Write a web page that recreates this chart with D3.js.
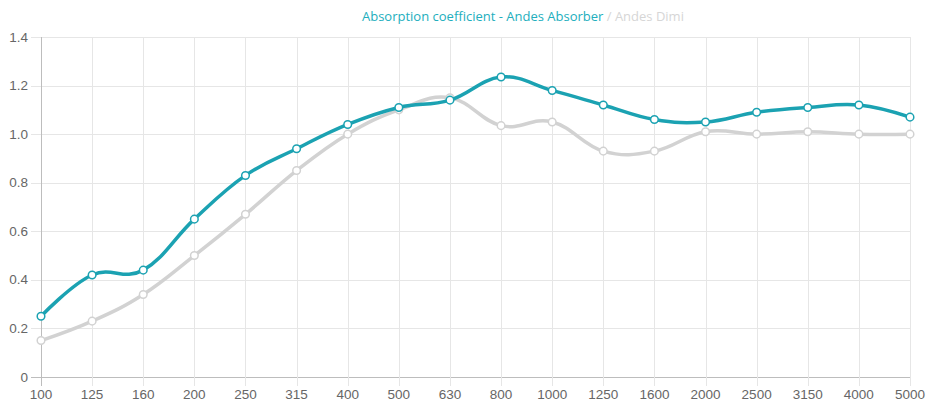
<!DOCTYPE html>
<html>
<head>
<meta charset="utf-8">
<script src="https://cdn.jsdelivr.net/npm/d3@7"></script>
<style>
  body { margin: 0; background: #fff; }
  text { font-family: "Liberation Sans", Arial, sans-serif; }
</style>
</head>
<body>
<div id="chart"></div>
<script>
// third-octave bands
var bands = ["100", "125", "160", "200", "250", "315", "400", "500", "630",
             "800", "1000", "1250", "1600", "2000", "2500", "3150", "4000", "5000"];
var absorber = [0.25, 0.42, 0.44, 0.65, 0.83, 0.94, 1.04, 1.11, 1.14,
                1.235, 1.18, 1.12, 1.06, 1.05, 1.09, 1.11, 1.12, 1.07];
var dimi = [0.15, 0.23, 0.34, 0.50, 0.67, 0.85, 1.00, 1.10, 1.15,
            1.035, 1.05, 0.93, 0.93, 1.01, 1.00, 1.01, 1.00, 1.00];
var yTicks = [0, 0.2, 0.4, 0.6, 0.8, 1.0, 1.2, 1.4];

var width = 928, height = 407;
var margin = { top: 37, right: 18, bottom: 30, left: 41 };

var svg = d3.select("#chart").append("svg")
    .attr("width", width)
    .attr("height", height);

var x = d3.scalePoint()
    .domain(bands)
    .range([margin.left, width - margin.right]);

var y = d3.scaleLinear()
    .domain([0, 1.4])
    .range([height - margin.bottom, margin.top]);

// grid
svg.append("g").selectAll("line")
    .data(yTicks)
    .enter().append("line")
      .attr("x1", margin.left - 10)
      .attr("x2", width - margin.right)
      .attr("y1", function(d) { return Math.round(y(d)) + 0.5; })
      .attr("y2", function(d) { return Math.round(y(d)) + 0.5; })
      .attr("stroke", function(d) { return d === 0 ? "#bdbdbd" : "#e6e6e6"; });

svg.append("g").selectAll("line")
    .data(bands)
    .enter().append("line")
      .attr("x1", function(d) { return Math.round(x(d)) + 0.5; })
      .attr("x2", function(d) { return Math.round(x(d)) + 0.5; })
      .attr("y1", margin.top)
      .attr("y2", height - margin.bottom + 9)
      .attr("stroke", function(d, i) { return i === 0 ? "#bdbdbd" : "#e6e6e6"; });

// tick labels
svg.append("g").selectAll("text")
    .data(yTicks)
    .enter().append("text")
      .attr("x", margin.left - 13)
      .attr("y", function(d) { return y(d) + 4.5; })
      .attr("text-anchor", "end")
      .attr("font-size", 13.5)
      .attr("fill", "#666")
      .text(function(d) { return d === 0 ? "0" : d3.format(".1f")(d); });

svg.append("g").selectAll("text")
    .data(bands)
    .enter().append("text")
      .attr("x", function(d) { return x(d); })
      .attr("y", height - 8)
      .attr("text-anchor", "middle")
      .attr("font-size", 13.5)
      .attr("fill", "#666")
      .text(function(d) { return d; });

var line = d3.line()
    .x(function(d, i) { return x(bands[i]); })
    .y(function(d) { return y(d); })
    .curve(d3.curveCardinal.tension(-0.2));

var series = [
    { name: "Andes Dimi", values: dimi, color: "#d2d2d2" },
    { name: "Andes Absorber", values: absorber, color: "#1ba2b2" }
];

series.forEach(function(s) {
    svg.append("path")
        .datum(s.values)
        .attr("d", line)
        .attr("fill", "none")
        .attr("stroke", s.color)
        .attr("stroke-width", 3.5);

    svg.append("g").selectAll("circle")
        .data(s.values)
        .enter().append("circle")
          .attr("cx", function(d, i) { return x(bands[i]); })
          .attr("cy", function(d) { return y(d); })
          .attr("r", 3.8)
          .attr("fill", "#fff")
          .attr("stroke", s.color)
          .attr("stroke-width", 1.5);
});

// title / legend
var title = svg.append("text")
    .attr("x", 362)
    .attr("y", 21)
    .attr("font-size", 13)
    .style("font-family", "'Open Sans', sans-serif");
title.append("tspan").attr("fill", "#22aebd").text("Absorption coefficient - Andes Absorber");
title.append("tspan").attr("fill", "#d6d6d6").text(" / Andes Dimi");
</script>
</body>
</html>
